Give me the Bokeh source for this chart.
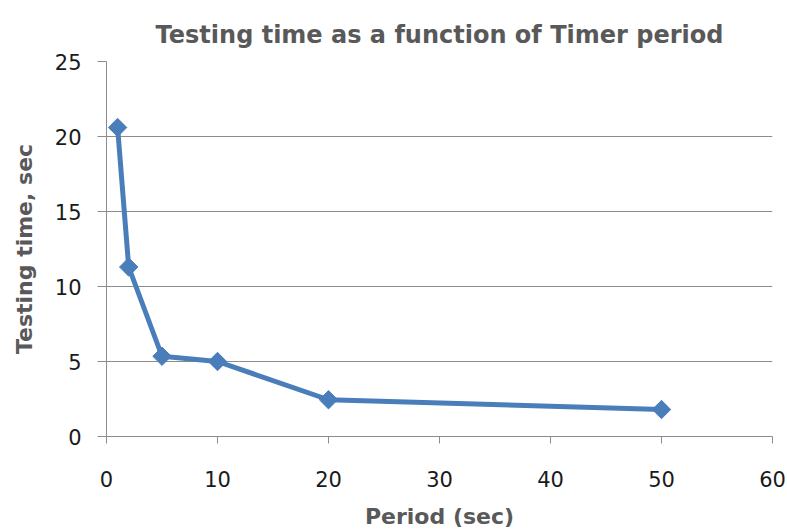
import math
from bokeh.plotting import figure
from bokeh.models import Range1d, FixedTicker, Title
from bokeh.embed import file_html
from bokeh.resources import INLINE

period = [1, 2, 5, 10, 20, 50]
testing_time = [20.6, 11.3, 5.35, 5.0, 2.45, 1.8]
x_ticks = [0, 10, 20, 30, 40, 50, 60]
y_ticks = [0, 5, 10, 15, 20, 25]

title_text = "Testing time as a function of Timer period"
x_label = "Period (sec)"
y_label = "Testing time, sec"

LINE = "#4A7EBB"
GRID = "#8C8C8C"
LABEL = "#595959"

p = figure(width=787, height=531, output_backend="svg", toolbar_location=None,
           x_range=Range1d(0, 60), y_range=Range1d(0, 25),
           min_border_left=106, min_border_right=15, min_border_top=61, min_border_bottom=95)
p.outline_line_color = None
p.background_fill_color = "white"
p.border_fill_color = "white"

p.title = Title(text=title_text, align="center", text_font="DejaVu Sans",
                text_font_size="24px", text_font_style="bold", text_color=LABEL,
                standoff=26, offset=5)

p.xgrid.grid_line_color = None
p.ygrid.grid_line_color = GRID
p.ygrid.grid_line_width = 1

p.xaxis.ticker = FixedTicker(ticks=x_ticks)
p.yaxis.ticker = FixedTicker(ticks=y_ticks)
for ax in (p.xaxis[0], p.yaxis[0]):
    ax.axis_line_color = GRID
    ax.major_tick_line_color = GRID
    ax.minor_tick_line_color = None
    ax.major_tick_in = 0
    ax.major_label_text_font = "DejaVu Sans"
    ax.major_label_text_font_size = "21px"
    ax.major_label_text_color = "#1a1a1a"
    ax.axis_label_text_font = "DejaVu Sans"
    ax.axis_label_text_font_size = "22px"
    ax.axis_label_text_font_style = "bold"
    ax.axis_label_text_color = LABEL

p.xaxis.major_tick_out = 7
p.yaxis.major_tick_out = 9
p.xaxis.major_label_standoff = 27
p.yaxis.major_label_standoff = 16
p.xaxis.axis_label = x_label
p.yaxis.axis_label = y_label
p.xaxis.axis_label_standoff = 14
p.yaxis.axis_label_standoff = 15

p.line(period, testing_time, line_color=LINE, line_width=5, line_join="round")
p.scatter(period, testing_time, marker="square", angle=math.pi / 4, size=13,
          fill_color=LINE, line_color=LINE)

open("out.html", "w").write(file_html(p, INLINE))
